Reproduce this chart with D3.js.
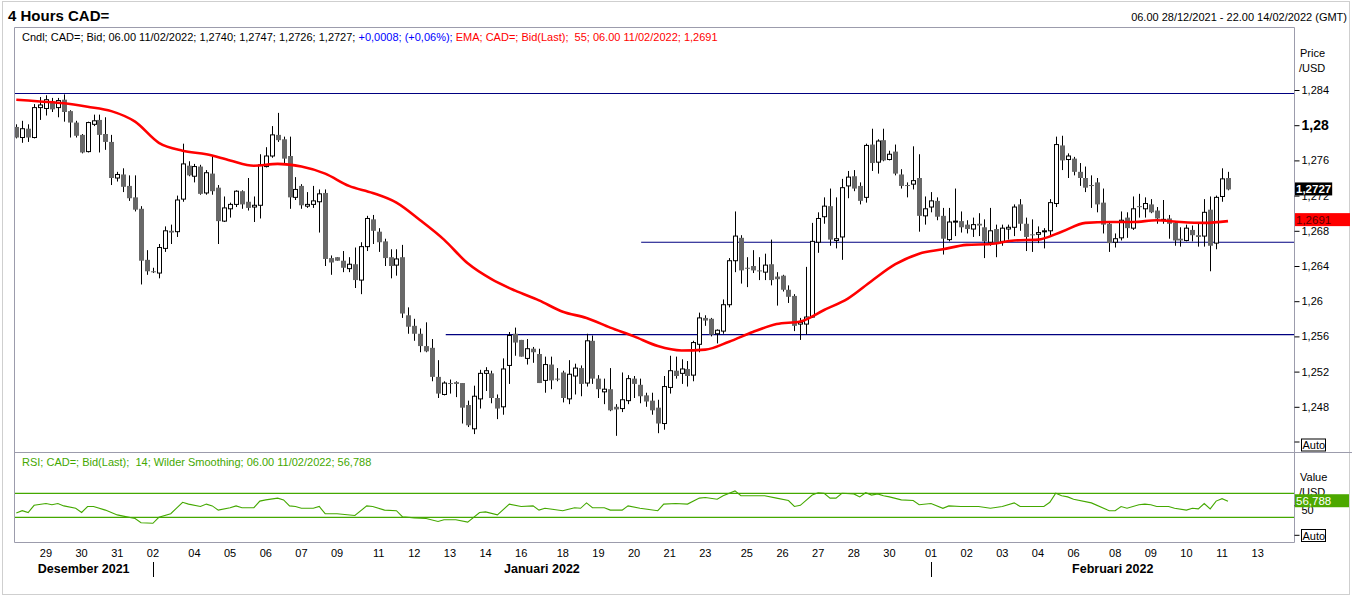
<!DOCTYPE html>
<html>
<head>
<meta charset="UTF-8">
<title>4 Hours CAD=</title>
<style>
    body {
        margin: 0;
        background: #fff;
    }
    svg text {
        font-family: "Liberation Sans", Arial, sans-serif;
    }
</style>
</head>
<body>
<svg id="chart" width="1352" height="596"></svg>
<script src="https://d3js.org/d3.v7.min.js"></script>
<script>

// ---- data (4h bars from 06.00 28/12/2021) ----
const candleOpen = [
1.2798,1.2786,1.2796,1.2786,1.2820,1.2819,1.2827,1.2820,1.2829,1.2816,1.2803,1.2789,1.2770,1.2801,1.2806,1.2790,1.2781,1.2740,1.2744,1.2731,
1.2718,1.2705,1.2647,1.2634,1.2632,1.2660,1.2680,1.2679,1.2716,1.2754,1.2742,1.2753,1.2723,1.2745,1.2729,1.2691,1.2705,1.2710,1.2725,1.2713,
1.2707,1.2709,1.2753,1.2765,1.2789,1.2784,1.2765,1.2718,1.2731,1.2708,1.2710,1.2713,1.2723,1.2649,1.2650,1.2646,1.2637,1.2642,1.2624,1.2662,
1.2693,1.2679,1.2668,1.2650,1.2641,1.2650,1.2584,1.2572,1.2563,1.2549,1.2547,1.2514,1.2494,1.2507,1.2508,1.2507,1.2482,1.2455,1.2489,1.2518,
1.2518,1.2490,1.2480,1.2527,1.2563,1.2556,1.2535,1.2546,1.2540,1.2510,1.2528,1.2512,1.2519,1.2489,1.2515,1.2524,1.2507,1.2555,1.2512,1.2497,
1.2500,1.2480,1.2478,1.2487,1.2512,1.2505,1.2493,1.2487,1.2479,1.2461,1.2502,1.2521,1.2518,1.2523,1.2516,1.2551,1.2581,1.2580,1.2563,1.2566,
1.2596,1.2646,1.2672,1.2638,1.2640,1.2635,1.2633,1.2642,1.2628,1.2629,1.2613,1.2606,1.2574,1.2574,1.2582,1.2667,1.2696,1.2708,1.2669,1.2673,
1.2731,1.2742,1.2731,1.2718,1.2778,1.2758,1.2783,1.2761,1.2770,1.2744,1.2732,1.2733,1.2740,1.2697,1.2707,1.2714,1.2697,1.2670,1.2690,1.2691,
1.2687,1.2682,1.2688,1.2684,1.2667,1.2682,1.2668,1.2682,1.2684,1.2710,1.2688,1.2676,1.2676,1.2680,1.2680,1.2711,1.2777,1.2761,1.2762,1.2747,
1.2740,1.2732,1.2735,1.2712,1.2688,1.2667,1.2672,1.2695,1.2683,1.2708,1.2705,1.2710,1.2703,1.2692,1.2694,1.2689,1.2671,1.2669,1.2681,1.2675,
1.2674,1.2704,1.2666,1.2719,1.2740];
const candleHigh = [
1.2801,1.2805,1.2801,1.2824,1.2832,1.2834,1.2831,1.2831,1.2835,1.2817,1.2805,1.2790,1.2804,1.2812,1.2812,1.2809,1.2789,1.2747,1.2751,1.2743,
1.2743,1.2708,1.2658,1.2638,1.2665,1.2685,1.2687,1.2720,1.2779,1.2759,1.2756,1.2755,1.2749,1.2765,1.2732,1.2719,1.2712,1.2726,1.2726,1.2740,
1.2719,1.2767,1.2775,1.2799,1.2814,1.2787,1.2787,1.2741,1.2733,1.2724,1.2731,1.2727,1.2727,1.2652,1.2650,1.2657,1.2650,1.2661,1.2667,1.2697,
1.2698,1.2683,1.2671,1.2659,1.2659,1.2664,1.2593,1.2580,1.2569,1.2576,1.2557,1.2533,1.2509,1.2511,1.2509,1.2507,1.2487,1.2504,1.2522,1.2525,
1.2521,1.2494,1.2535,1.2565,1.2570,1.2556,1.2557,1.2548,1.2546,1.2537,1.2537,1.2524,1.2521,1.2533,1.2529,1.2527,1.2563,1.2561,1.2516,1.2512,
1.2524,1.2483,1.2519,1.2516,1.2515,1.2512,1.2496,1.2496,1.2488,1.2515,1.2538,1.2537,1.2534,1.2532,1.2555,1.2587,1.2584,1.2581,1.2568,1.2602,
1.2649,1.2702,1.2675,1.2650,1.2658,1.2650,1.2654,1.2670,1.2633,1.2630,1.2618,1.2608,1.2581,1.2639,1.2689,1.2701,1.2718,1.2728,1.2718,1.2739,
1.2748,1.2749,1.2735,1.2779,1.2796,1.2784,1.2796,1.2771,1.2778,1.2750,1.2735,1.2776,1.2767,1.2719,1.2724,1.2718,1.2706,1.2706,1.2728,1.2702,
1.2692,1.2695,1.2700,1.2693,1.2706,1.2687,1.2687,1.2687,1.2710,1.2716,1.2695,1.2693,1.2685,1.2683,1.2716,1.2787,1.2788,1.2768,1.2764,1.2757,
1.2753,1.2743,1.2740,1.2728,1.2690,1.2677,1.2702,1.2701,1.2719,1.2722,1.2718,1.2716,1.2707,1.2715,1.2698,1.2690,1.2684,1.2687,1.2686,1.2688,
1.2716,1.2719,1.2720,1.2751,1.2747];
const candleLow = [
1.2785,1.2780,1.2781,1.2785,1.2806,1.2811,1.2815,1.2809,1.2804,1.2786,1.2786,1.2768,1.2769,1.2799,1.2769,1.2772,1.2732,1.2736,1.2724,1.2714,
1.2702,1.2619,1.2630,1.2632,1.2626,1.2656,1.2665,1.2673,1.2713,1.2742,1.2735,1.2721,1.2721,1.2721,1.2665,1.2690,1.2695,1.2707,1.2705,1.2703,
1.2690,1.2694,1.2752,1.2763,1.2781,1.2756,1.2705,1.2715,1.2705,1.2706,1.2706,1.2678,1.2640,1.2630,1.2646,1.2633,1.2633,1.2615,1.2608,1.2657,
1.2665,1.2656,1.2640,1.2626,1.2629,1.2581,1.2563,1.2555,1.2542,1.2542,1.2509,1.2490,1.2493,1.2495,1.2491,1.2461,1.2457,1.2449,1.2478,1.2498,
1.2484,1.2466,1.2471,1.2506,1.2538,1.2537,1.2528,1.2530,1.2507,1.2496,1.2500,1.2509,1.2485,1.2483,1.2494,1.2492,1.2503,1.2506,1.2490,1.2483,
1.2475,1.2447,1.2474,1.2483,1.2490,1.2484,1.2480,1.2471,1.2450,1.2454,1.2495,1.2512,1.2506,1.2503,1.2509,1.2542,1.2572,1.2560,1.2552,1.2563,
1.2593,1.2633,1.2620,1.2616,1.2632,1.2624,1.2624,1.2618,1.2595,1.2611,1.2598,1.2566,1.2556,1.2562,1.2581,1.2655,1.2688,1.2663,1.2660,1.2647,
1.2717,1.2725,1.2710,1.2712,1.2748,1.2745,1.2759,1.2760,1.2743,1.2728,1.2718,1.2727,1.2679,1.2687,1.2701,1.2692,1.2653,1.2668,1.2674,1.2678,
1.2677,1.2673,1.2674,1.2649,1.2663,1.2650,1.2663,1.2670,1.2674,1.2680,1.2657,1.2656,1.2666,1.2660,1.2675,1.2707,1.2749,1.2740,1.2743,1.2731,
1.2724,1.2706,1.2701,1.2677,1.2656,1.2661,1.2669,1.2672,1.2681,1.2695,1.2695,1.2700,1.2688,1.2688,1.2671,1.2663,1.2662,1.2668,1.2668,1.2662,
1.2662,1.2634,1.2659,1.2713,1.2726];
const candleClose = [
1.2786,1.2796,1.2786,1.2820,1.2823,1.2829,1.2818,1.2828,1.2815,1.2803,1.2788,1.2769,1.2803,1.2805,1.2789,1.2781,1.2740,1.2744,1.2730,1.2717,
1.2704,1.2646,1.2634,1.2633,1.2661,1.2680,1.2678,1.2715,1.2756,1.2743,1.2753,1.2722,1.2746,1.2725,1.2691,1.2706,1.2710,1.2725,1.2710,1.2706,
1.2709,1.2755,1.2765,1.2789,1.2783,1.2762,1.2718,1.2727,1.2709,1.2710,1.2714,1.2722,1.2648,1.2644,1.2646,1.2638,1.2642,1.2624,1.2662,1.2694,
1.2680,1.2667,1.2649,1.2640,1.2648,1.2586,1.2571,1.2563,1.2549,1.2543,1.2514,1.2495,1.2507,1.2506,1.2506,1.2479,1.2459,1.2492,1.2518,1.2521,
1.2490,1.2478,1.2523,1.2561,1.2553,1.2537,1.2546,1.2542,1.2507,1.2528,1.2510,1.2511,1.2490,1.2517,1.2524,1.2506,1.2555,1.2512,1.2500,1.2500,
1.2476,1.2477,1.2488,1.2512,1.2506,1.2492,1.2486,1.2476,1.2461,1.2503,1.2521,1.2515,1.2523,1.2515,1.2553,1.2581,1.2578,1.2562,1.2567,1.2596,
1.2646,1.2674,1.2635,1.2637,1.2635,1.2634,1.2641,1.2624,1.2625,1.2613,1.2605,1.2572,1.2576,1.2582,1.2668,1.2694,1.2708,1.2670,1.2671,1.2729,
1.2741,1.2728,1.2714,1.2777,1.2757,1.2782,1.2760,1.2767,1.2745,1.2731,1.2731,1.2737,1.2697,1.2705,1.2714,1.2696,1.2671,1.2690,1.2691,1.2684,
1.2682,1.2687,1.2686,1.2668,1.2680,1.2667,1.2683,1.2684,1.2707,1.2688,1.2673,1.2675,1.2678,1.2680,1.2712,1.2778,1.2760,1.2765,1.2747,1.2740,
1.2729,1.2731,1.2710,1.2687,1.2666,1.2671,1.2692,1.2683,1.2705,1.2707,1.2711,1.2701,1.2694,1.2693,1.2688,1.2669,1.2669,1.2683,1.2675,1.2673,
1.2701,1.2663,1.2718,1.2739,1.2727];

// EMA(55) read every 4 bars (bar 0, 4, 8 ... 204)
const emaStep = 4;
const emaValues = [
1.2829,1.2827,1.2825,1.2821,1.2816,1.2804,1.2780,1.2771,1.2767,1.2760,1.2754,1.2756,1.2753,1.2745,1.2731,1.2723,1.2712,1.2692,1.2670,1.2643,
1.2625,1.2612,1.2601,1.2588,1.2581,1.2570,1.2560,1.2549,1.2544,1.2545,1.2554,1.2565,1.2574,1.2577,1.2590,1.2603,1.2623,1.2642,1.2654,1.2659,
1.2664,1.2665,1.2669,1.2670,1.2679,1.2689,1.2690,1.2690,1.2692,1.2690,1.2689,1.2691];

// RSI(14) points [bar, value]
const rsiPoints = [
[0,37],[1,41],[2,38],[3,50],[5,53],[6,51],[7,53],[8,49],[10,45],[11,38],[12,48],[13,48],[15,42],[17,34],[18,32],[20,28],[21,21],[23,20],
[24,30],[26,36],[28,55],[29,52],[31,48],[32,52],[33,49],[34,42],[36,46],[37,49],[38,46],[40,46],[41,57],[42,59],[44,62],[45,59],[46,49],
[47,48],[48,45],[50,45],[51,48],[52,36],[54,36],[57,33],[59,49],[60,48],[62,42],[64,41],[65,31],[67,29],[69,28],[71,23],[72,26],[74,26],
[76,22],[78,38],[79,39],[81,34],[83,52],[85,48],[87,49],[88,42],[89,45],[92,41],[94,46],[95,45],[96,54],[97,46],[99,46],[100,42],[102,42],
[103,49],[105,45],[108,41],[109,52],[111,53],[113,52],[115,62],[116,63],[118,60],[119,66],[121,74],[122,66],[126,66],[128,62],[130,58],
[131,48],[132,50],[134,67],[135,71],[136,70],[137,62],[138,62],[139,70],[141,69],[142,64],[143,71],[144,67],[145,69],[146,66],[147,64],
[149,59],[151,58],[152,51],[154,53],[156,45],[157,49],[159,48],[162,48],[164,45],[166,48],[168,54],[169,48],[171,48],[173,48],[174,55],
[175,70],[176,66],[177,64],[178,60],[181,54],[184,41],[185,41],[186,48],[187,45],[189,51],[190,52],[191,51],[192,48],[194,48],[195,45],
[197,42],[198,45],[199,44],[200,53],[201,44],[202,57],[203,61],[204,56.788]];

// drawn support / resistance lines: level and the bar they start at
const lineLevels = [1.2836, 1.2667, 1.2562];
const lineStarts = [-1, 105.2, 72.3];

const priceTicks = [1.248, 1.252, 1.256, 1.26, 1.264, 1.268, 1.272, 1.276, 1.28, 1.284];
const dayTicks = ["2021-12-29","2021-12-30","2021-12-31","2022-01-02","2022-01-04","2022-01-05","2022-01-06","2022-01-07",
    "2022-01-09","2022-01-11","2022-01-12","2022-01-13","2022-01-14","2022-01-16","2022-01-18","2022-01-19","2022-01-20",
    "2022-01-21","2022-01-23","2022-01-25","2022-01-26","2022-01-27","2022-01-28","2022-01-30","2022-02-01","2022-02-02",
    "2022-02-03","2022-02-04","2022-02-06","2022-02-08","2022-02-09","2022-02-10","2022-02-11","2022-02-13"];
const monthNames = ["Desember 2021", "Januari 2022", "Februari 2022"];
const monthStarts = ["2021-12-01", "2022-01-01", "2022-02-01"];

// ---- layout ----
const panelLeft = 14.5, panelRight = 1294.5, panelTop = 27.5, sepY = 452.5, rsiBottom = 542.5;
const gridColor = "#9c9cac", navy = "#000080", rsiGreen = "#44a800";

// bar timestamps: every 4h, forex week (no Saturday, Sunday only the 22.00 bar)
let times = [];
let t = new Date(Date.UTC(2021, 11, 28, 6));
while (times.length < 216) {
    let dow = t.getUTCDay(), h = t.getUTCHours();
    if (dow !== 6 && !(dow === 0 && h < 22)) times.push(new Date(t));
    t = new Date(t.getTime() + 4 * 3600 * 1000);
}
const dayKey = d => d.toISOString().slice(0, 10);
const firstBar = key => times.findIndex(d => dayKey(d) >= key);

let x = d3.scaleLinear().domain([0, 204]).range([16.3, 1228]);
let y = d3.scaleLinear().domain([1.244, 1.284]).range([442, 90]);
let yRsi = d3.scaleLinear().domain([30, 70]).range([517.3, 493.3]);

const fmt = v => (+v.toFixed(4)).toString().replace(".", ",");
const fmt4 = v => v.toFixed(4).replace(".", ",");

let svg = d3.select("#chart");

// outer frame
svg.append("rect")
    .attr("x", 2.5).attr("y", 1.5).attr("width", 1347).attr("height", 593)
    .attr("fill", "none").attr("stroke", "#cfcfcf");

// ---- header texts ----
svg.append("text").attr("x", 8).attr("y", 21)
    .attr("font-size", 15).attr("font-weight", "bold").text("4 Hours CAD=");

svg.append("text").attr("x", 1347).attr("y", 20.5).attr("text-anchor", "end")
    .attr("font-size", 11).text("06.00 28/12/2021 - 22.00 14/02/2022 (GMT)");

let last = candleOpen.length - 1;
let head = svg.append("text").attr("x", 22).attr("y", 41).attr("font-size", 11);
head.append("tspan").attr("fill", "#000")
    .text("Cndl; CAD=; Bid; 06.00 11/02/2022; " +
        [candleOpen[last], candleHigh[last], candleLow[last], candleClose[last]].map(fmt4).join("; ") + "; ");
head.append("tspan").attr("fill", "#0000ff").text("+0,0008; (+0,06%); ");
head.append("tspan").attr("fill", "#ff0000")
    .text("EMA; CAD=; Bid(Last);\u00a0 55; 06.00 11/02/2022; " + fmt4(emaValues[emaValues.length - 1]));

svg.append("text").attr("x", 22).attr("y", 466).attr("font-size", 11).attr("fill", rsiGreen)
    .text("RSI; CAD=; Bid(Last);\u00a0 14; Wilder Smoothing; 06.00 11/02/2022; " + fmt(rsiPoints[rsiPoints.length - 1][1]));

// ---- clip paths ----
let defs = svg.append("defs");
defs.append("clipPath").attr("id", "clipPrice").append("rect")
    .attr("x", panelLeft).attr("y", panelTop).attr("width", panelRight - panelLeft).attr("height", sepY - panelTop);
defs.append("clipPath").attr("id", "clipRsi").append("rect")
    .attr("x", panelLeft).attr("y", sepY).attr("width", panelRight - panelLeft).attr("height", rsiBottom - sepY);

// ---- price panel ----
let plot = svg.append("g").attr("clip-path", "url(#clipPrice)");

// horizontal lines
plot.selectAll("line.level")
    .data(lineLevels)
    .join("line")
    .attr("class", "level")
    .attr("x1", (d, i) => Math.max(panelLeft, x(lineStarts[i])))
    .attr("x2", panelRight)
    .attr("y1", d => y(d)).attr("y2", d => y(d))
    .attr("stroke", navy).attr("stroke-width", 1.2);

// candles
let bars = d3.range(candleOpen.length);
const isUp = i => candleClose[i] >= candleOpen[i];

plot.selectAll("line.wick")
    .data(bars)
    .join("line")
    .attr("class", "wick")
    .attr("x1", i => Math.round(x(i)) + 0.5).attr("x2", i => Math.round(x(i)) + 0.5)
    .attr("y1", i => y(candleHigh[i])).attr("y2", i => y(candleLow[i]))
    .attr("stroke", "#000").attr("stroke-width", 1);

plot.selectAll("rect.body")
    .data(bars)
    .join("rect")
    .attr("class", "body")
    .attr("x", i => isUp(i) ? Math.round(x(i)) - 1.5 : Math.round(x(i)) - 2)
    .attr("width", i => isUp(i) ? 4 : 5)
    .attr("y", i => y(Math.max(candleOpen[i], candleClose[i])))
    .attr("height", i => Math.max(1, Math.abs(y(candleOpen[i]) - y(candleClose[i]))))
    .attr("fill", i => isUp(i) ? "#fff" : "#686868")
    .attr("stroke", i => isUp(i) ? "#000" : "none")
    .attr("stroke-width", 1);

// EMA
let emaLine = d3.line()
    .x((d, k) => x(k * emaStep))
    .y(d => y(d))
    .curve(d3.curveMonotoneX);
plot.append("path")
    .datum(emaValues)
    .attr("d", emaLine)
    .attr("fill", "none").attr("stroke", "#ff0000").attr("stroke-width", 2.6);

// ---- RSI panel ----
let rsiG = svg.append("g").attr("clip-path", "url(#clipRsi)");
rsiG.selectAll("line.band")
    .data([70, 30])
    .join("line")
    .attr("x1", panelLeft).attr("x2", panelRight)
    .attr("y1", d => yRsi(d)).attr("y2", d => yRsi(d))
    .attr("stroke", rsiGreen).attr("stroke-width", 1.2);

rsiG.append("path")
    .datum(rsiPoints)
    .attr("d", d3.line().x(d => x(d[0])).y(d => yRsi(d[1])))
    .attr("fill", "none").attr("stroke", rsiGreen).attr("stroke-width", 1.1);

// ---- panel borders ----
let frame = svg.append("g").attr("stroke", gridColor).attr("stroke-width", 1).attr("fill", "none");
frame.append("path").attr("d",
    "M" + panelLeft + "," + rsiBottom + "V" + panelTop + "H" + panelRight + "V" + rsiBottom + "H" + panelLeft);
frame.append("line").attr("x1", panelLeft).attr("x2", 1352).attr("y1", sepY).attr("y2", sepY);

// ---- right axes ----
let priceAxis = svg.append("g")
    .attr("transform", "translate(" + panelRight + ",0)")
    .call(d3.axisRight(y).tickValues(priceTicks).tickFormat(fmt).tickSize(5).tickPadding(2));
priceAxis.select(".domain").remove();
priceAxis.attr("font-size", 11).attr("font-family", null);
priceAxis.selectAll("text").attr("fill", "#000")
    .filter(d => d === 1.28).attr("font-weight", "bold").attr("font-size", 14);
priceAxis.selectAll("line").attr("stroke", "#000");

svg.append("text").attr("x", 1300).attr("y", 57).attr("font-size", 11).text("Price");
svg.append("text").attr("x", 1299).attr("y", 72).attr("font-size", 11).text("/USD");

let rsiAxis = svg.append("g")
    .attr("transform", "translate(" + panelRight + ",0)")
    .call(d3.axisRight(yRsi).tickValues([50]).tickSize(5).tickPadding(2));
rsiAxis.select(".domain").remove();
rsiAxis.attr("font-size", 11).attr("font-family", null);
rsiAxis.selectAll("text").attr("fill", "#000").attr("dy", "0.7em");
rsiAxis.selectAll("line").attr("stroke", "#000");

svg.append("text").attr("x", 1300).attr("y", 481).attr("font-size", 11).text("Value");
svg.append("text").attr("x", 1299).attr("y", 496).attr("font-size", 11).text("/USD");

// "Auto" boxes at the bottom of each scale
[[y(1.244), 445], [yRsi(0), 535.5]].forEach(([ty, cy]) => {
    svg.append("line").attr("x1", panelRight).attr("x2", panelRight + 5)
        .attr("y1", ty).attr("y2", ty).attr("stroke", "#000");
    svg.append("rect").attr("x", 1301.5).attr("y", cy - 6).attr("width", 24).attr("height", 12)
        .attr("fill", "#fff").attr("stroke", "#000");
    svg.append("text").attr("x", 1302.5).attr("y", cy + 4).attr("font-size", 11).text("Auto");
});

// last value boxes (box grows to the label if needed)
function valueBox(cy, w, bg, fg, label, bold) {
    let box = svg.append("rect").attr("x", panelRight + 0.5).attr("y", cy - 6.5).attr("height", 13)
        .attr("fill", bg);
    let txt = svg.append("text").attr("x", panelRight + 1.5).attr("y", cy + 4)
        .attr("font-size", 11.5).attr("font-weight", bold ? "bold" : "normal")
        .attr("fill", fg).text(label);
    box.attr("width", Math.max(w, txt.node().getComputedTextLength() + 2));
}
valueBox(y(candleClose[last]) - 0.5, 33, "#000", "#fff", fmt4(candleClose[last]), true);
valueBox(y(emaValues[emaValues.length - 1]) - 1.5, 55, "#ff0000", "#5a0000", fmt4(emaValues[emaValues.length - 1]), false);
valueBox(yRsi(rsiPoints[rsiPoints.length - 1][1]) - 0.5, 54, "#4ca800", "#fff", fmt(rsiPoints[rsiPoints.length - 1][1]), false);

// ---- time axis ----
svg.append("g").selectAll("text")
    .data(dayTicks)
    .join("text")
    .attr("x", d => x(firstBar(d)))
    .attr("y", 557)
    .attr("text-anchor", "middle")
    .attr("font-size", 11)
    .text(d => d.slice(8, 10));

let monthBars = monthStarts.map(firstBar);
let monthEdges = monthBars.map((b, i) => i === 0 ? panelLeft : x(b)).concat([panelRight]);

svg.append("g").selectAll("text")
    .data(monthNames)
    .join("text")
    .attr("x", (d, i) => (monthEdges[i] + monthEdges[i + 1]) / 2)
    .attr("y", 573)
    .attr("text-anchor", "middle")
    .attr("font-size", 12.5)
    .attr("font-weight", "bold")
    .text(d => d);

svg.append("g").selectAll("line")
    .data(monthBars.slice(1))
    .join("line")
    .attr("x1", b => Math.round(x(b)) + 0.5).attr("x2", b => Math.round(x(b)) + 0.5)
    .attr("y1", 562).attr("y2", 577)
    .attr("stroke", "#000");

</script>
</body>
</html>
